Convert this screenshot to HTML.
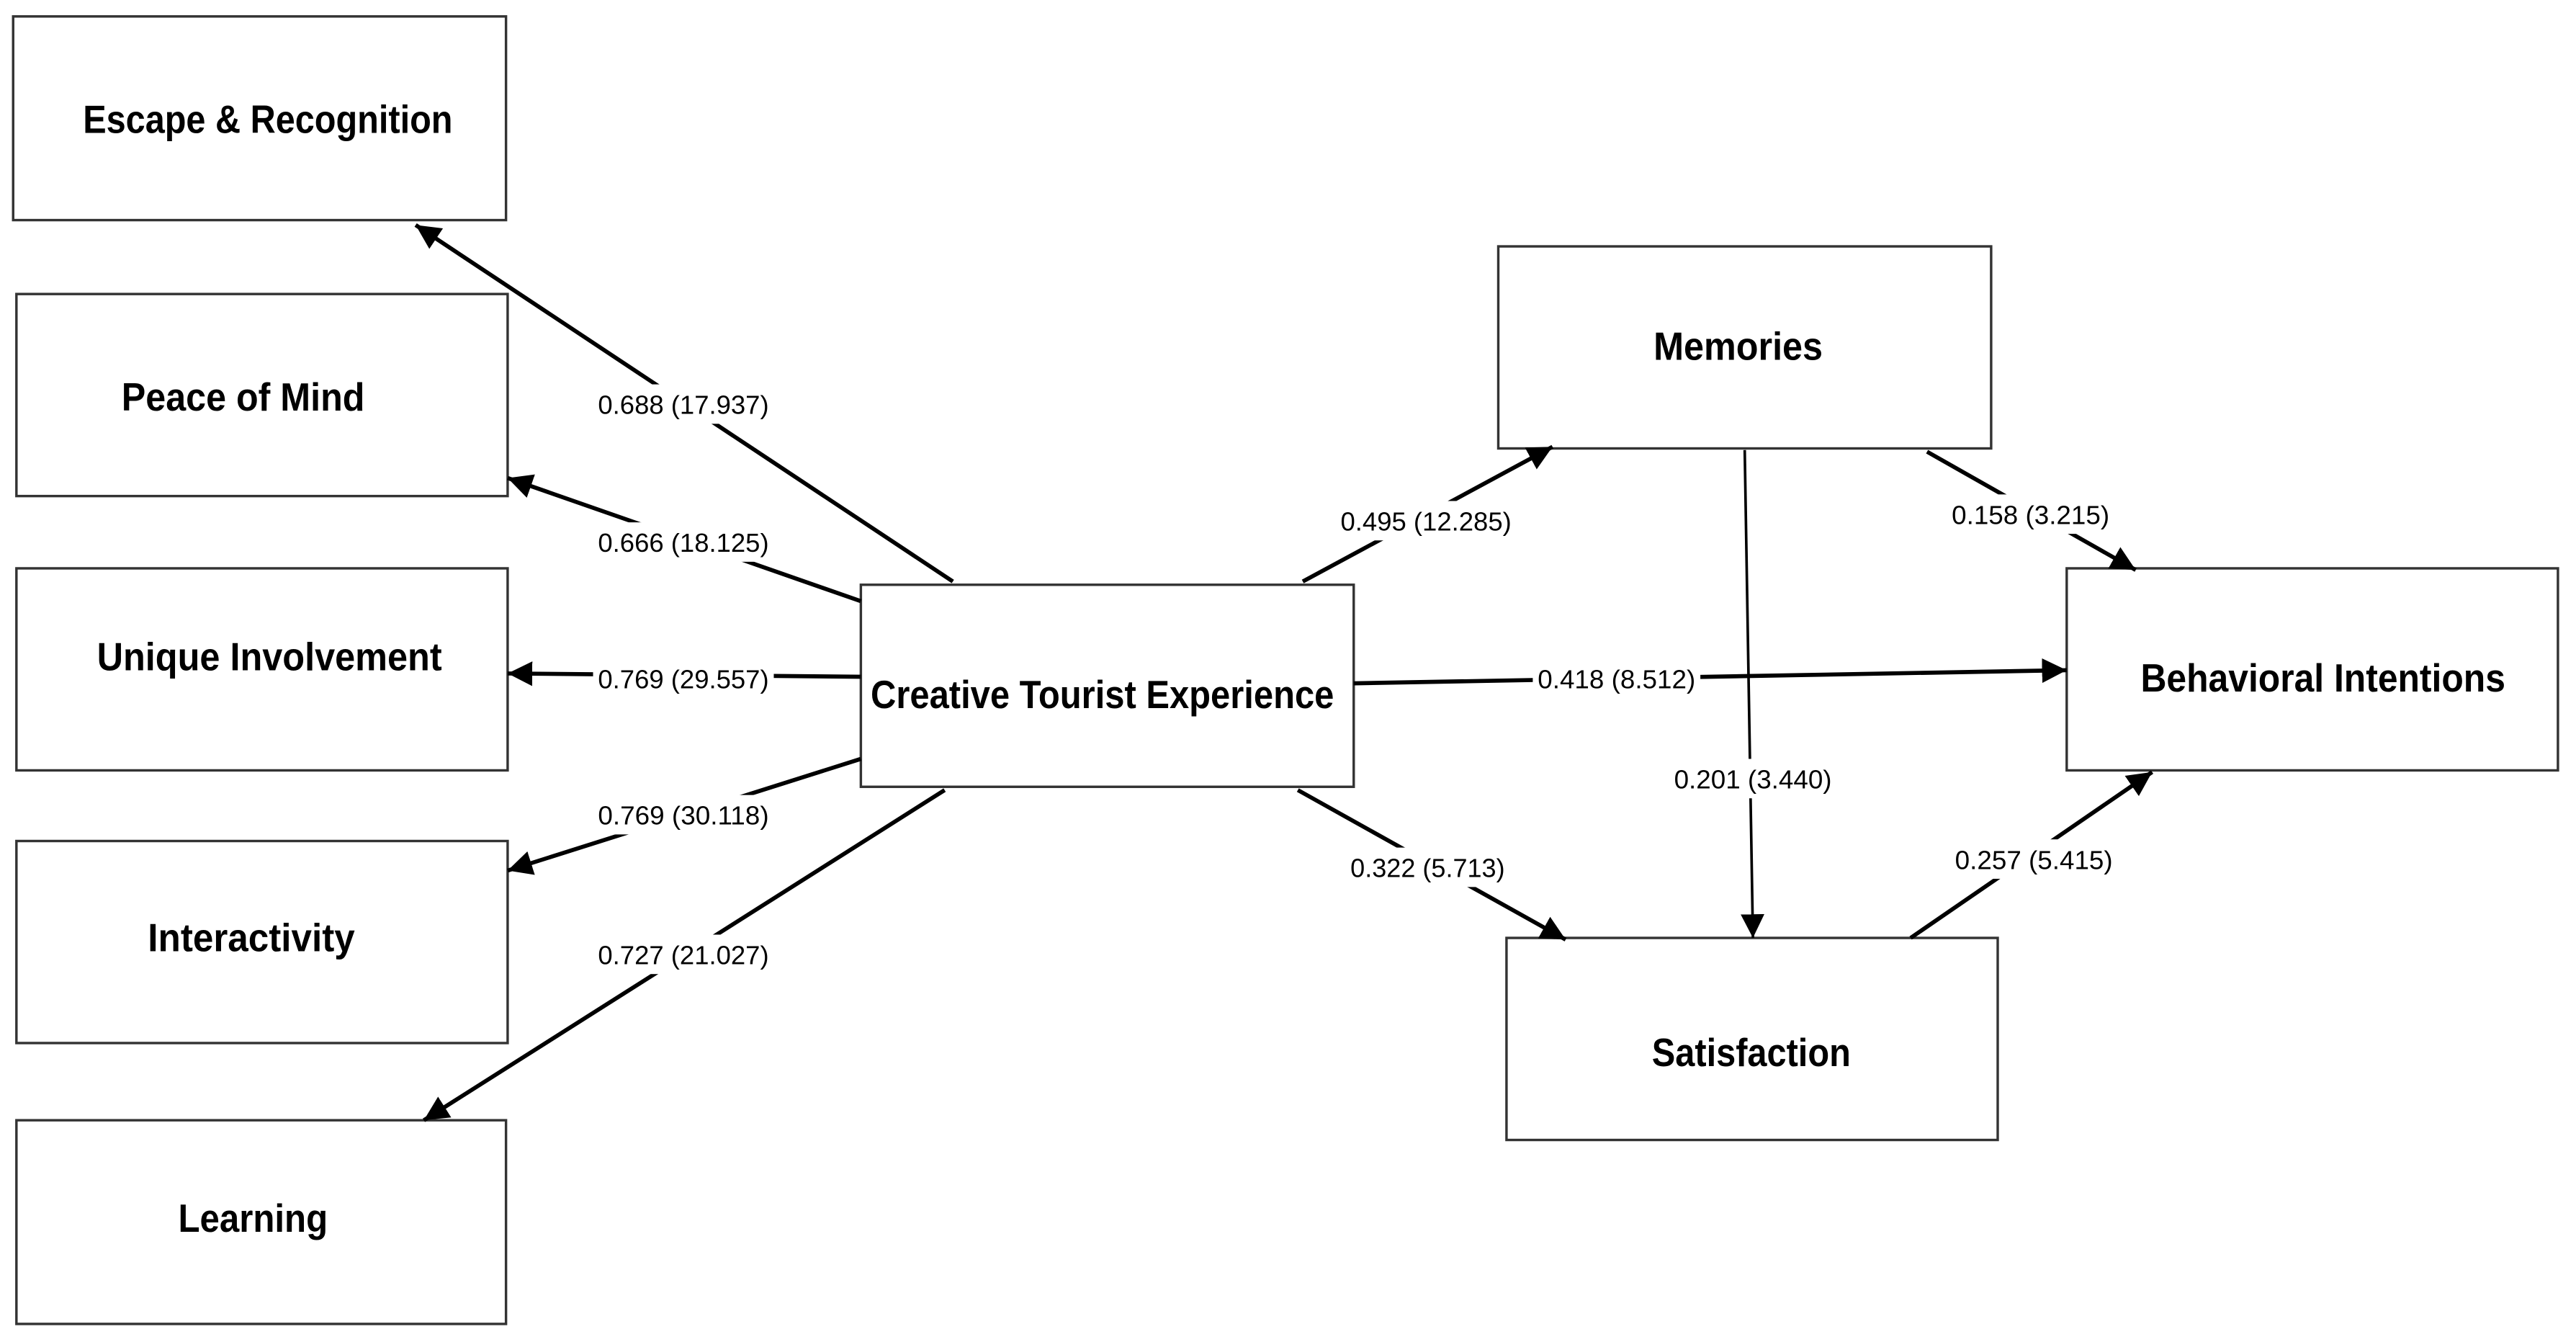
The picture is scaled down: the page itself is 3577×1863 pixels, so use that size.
<!DOCTYPE html>
<html><head><meta charset="utf-8"><style>
html,body{margin:0;padding:0;background:#fff;}
svg{display:block;}
.n{font-family:"Liberation Sans",sans-serif;font-weight:bold;font-size:24px;fill:#000;}
.l{font-family:"Liberation Sans",sans-serif;font-size:16px;fill:#000;}
</style></head><body>
<svg width="3577" height="1863" viewBox="0 0 1568 817" preserveAspectRatio="none" xmlns="http://www.w3.org/2000/svg">
<defs>
<marker id="a" viewBox="0 0 10 10" refX="10" refY="5" markerWidth="6" markerHeight="6" markerUnits="strokeWidth" orient="auto"><path d="M0,0 L10,5 L0,10 z" fill="#000"/></marker>
<marker id="b" viewBox="0 0 10 10" refX="10" refY="5" markerWidth="9" markerHeight="9" markerUnits="strokeWidth" orient="auto"><path d="M0,0 L10,5 L0,10 z" fill="#000"/></marker>
</defs>
<rect width="1568" height="817" fill="#fff"/>
<g fill="#fff" stroke="#333" stroke-width="1.5">
<rect x="8" y="10" width="300" height="124"/>
<rect x="10" y="179" width="299" height="123"/>
<rect x="10" y="346" width="299" height="123"/>
<rect x="10" y="512" width="299" height="123"/>
<rect x="10" y="682" width="298" height="124"/>
<rect x="524" y="356" width="300" height="123"/>
<rect x="912" y="150" width="300" height="123"/>
<rect x="917" y="571" width="299" height="123"/>
<rect x="1258" y="346" width="299" height="123"/>
</g>
<g stroke="#000" stroke-width="2.5" fill="none" marker-end="url(#a)">
<line x1="580" y1="354" x2="253" y2="137"/>
<line x1="524" y1="366" x2="309" y2="291"/>
<line x1="524" y1="412" x2="309" y2="410"/>
<line x1="524" y1="462" x2="309" y2="530"/>
<line x1="575" y1="481" x2="258" y2="682"/>
<line x1="793" y1="354" x2="945" y2="272"/>
<line x1="824" y1="416" x2="1258" y2="408"/>
<line x1="790" y1="481" x2="953" y2="572"/>
<line x1="1173" y1="275" x2="1300" y2="347"/>
<line x1="1163" y1="571" x2="1310" y2="470"/>
</g>
<line x1="1062" y1="274" x2="1067" y2="571" stroke="#000" stroke-width="1.6" marker-end="url(#b)"/>
<g fill="#fff">
<rect x="361" y="234" width="110" height="24"/>
<rect x="361" y="318" width="110" height="24"/>
<rect x="361" y="401" width="110" height="24"/>
<rect x="361" y="484" width="110" height="24"/>
<rect x="361" y="569" width="110" height="24"/>
<rect x="813" y="305" width="110" height="24"/>
<rect x="933" y="401" width="102" height="24"/>
<rect x="1016" y="462" width="102" height="24"/>
<rect x="820" y="516" width="98" height="24"/>
<rect x="1185" y="301" width="102" height="24"/>
<rect x="1187" y="511" width="102" height="24"/>
</g>
<g class="l" text-anchor="middle">
<text x="416" y="252" textLength="104" lengthAdjust="spacingAndGlyphs">0.688 (17.937)</text>
<text x="416" y="336" textLength="104" lengthAdjust="spacingAndGlyphs">0.666 (18.125)</text>
<text x="416" y="419" textLength="104" lengthAdjust="spacingAndGlyphs">0.769 (29.557)</text>
<text x="416" y="502" textLength="104" lengthAdjust="spacingAndGlyphs">0.769 (30.118)</text>
<text x="416" y="587" textLength="104" lengthAdjust="spacingAndGlyphs">0.727 (21.027)</text>
<text x="868" y="323" textLength="104" lengthAdjust="spacingAndGlyphs">0.495 (12.285)</text>
<text x="984" y="419" textLength="96" lengthAdjust="spacingAndGlyphs">0.418 (8.512)</text>
<text x="1067" y="480" textLength="96" lengthAdjust="spacingAndGlyphs">0.201 (3.440)</text>
<text x="869" y="534" textLength="94" lengthAdjust="spacingAndGlyphs">0.322 (5.713)</text>
<text x="1236" y="319" textLength="96" lengthAdjust="spacingAndGlyphs">0.158 (3.215)</text>
<text x="1238" y="529" textLength="96" lengthAdjust="spacingAndGlyphs">0.257 (5.415)</text>
</g>
<g class="n" text-anchor="middle">
<text x="163" y="81" textLength="225" lengthAdjust="spacingAndGlyphs">Escape &amp; Recognition</text>
<text x="148" y="250" textLength="148" lengthAdjust="spacingAndGlyphs">Peace of Mind</text>
<text x="164" y="408" textLength="210" lengthAdjust="spacingAndGlyphs">Unique Involvement</text>
<text x="153" y="579" textLength="126" lengthAdjust="spacingAndGlyphs">Interactivity</text>
<text x="154" y="750" textLength="91" lengthAdjust="spacingAndGlyphs">Learning</text>
<text x="671" y="431" textLength="282" lengthAdjust="spacingAndGlyphs">Creative Tourist Experience</text>
<text x="1058" y="219" textLength="103" lengthAdjust="spacingAndGlyphs">Memories</text>
<text x="1066" y="649" textLength="121" lengthAdjust="spacingAndGlyphs">Satisfaction</text>
<text x="1414" y="421" textLength="222" lengthAdjust="spacingAndGlyphs">Behavioral Intentions</text>
</g>
</svg>
</body></html>
